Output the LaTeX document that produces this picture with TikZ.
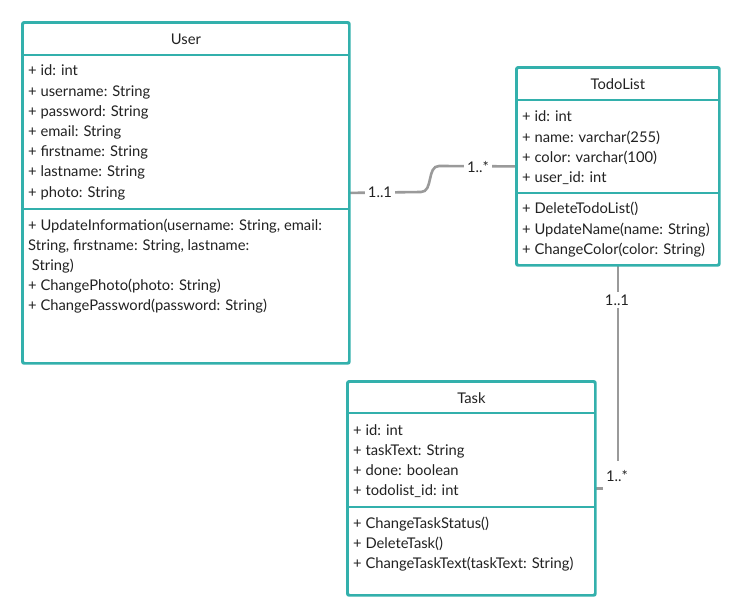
\documentclass[tikz,border=0pt]{standalone}
\usepackage{fontspec}
\setmainfont{Lato}
\definecolor{umlteal}{HTML}{33B0AC}
\definecolor{linkgray}{HTML}{9A9A9A}
\definecolor{textgray}{HTML}{222222}
\tikzstyle{classbox}=[draw=umlteal,line width=1.8bp,rounded corners=2bp,inner sep=0pt,fill=white,anchor=north west]
\tikzstyle{rule}=[draw=umlteal,line width=1.8bp]
\tikzstyle{member}=[anchor=base west,inner sep=0pt,text=textgray]
\tikzstyle{title}=[anchor=base,inner sep=0pt,text=textgray]
\tikzstyle{link}=[draw=linkgray,line width=2.6bp]
\tikzstyle{mult}=[fill=white,inner sep=3bp,text=textgray]
\newcommand{\umlfont}{\fontsize{14.8}{17}\selectfont}

\begin{document}
\begin{tikzpicture}[x=1bp, y=-1bp, font=\umlfont]
    \useasboundingbox (0,0) rectangle (740,616);
    % The three class boxes
    \node[classbox,minimum width=326bp,minimum height=340bp] (user) at (22,22) {};
    \node[classbox,minimum width=202bp,minimum height=197bp] (todolist) at (516,67) {};
    \node[classbox,minimum width=247bp,minimum height=213bp] (task) at (347,381) {};
    % Connect classes and draw multiplicities
    \path[link] (user.east) -- (421,192) to[out=0,in=180] (439,166) -- (todolist.west);
    \path[link] (todolist.south) |- (task.east);
    \node[mult] (user-mult) at (380,192) {1..1};
    \node[mult] (todo-mult) at (478,167) {1..*};
    \node[mult] (todo-mult2) at (617,300) {1..1};
    \node[mult,minimum height=30bp] (task-mult) at (617,476) {1..*};
    % Redraw boxes on top of link ends
    \foreach \name in {user, todolist, task}
        \draw[draw=umlteal,line width=1.8bp,rounded corners=2bp] (\name.north west) rectangle (\name.south east);
    % Titles and separators
    \foreach \name/\txt/\ya/\yb in {user/User/55/209, todolist/TodoList/100/193, task/Task/413/507} {
        \node[title] (\name-title) at ([yshift=-22.5bp]\name.north) {\txt};
        \draw[rule] (\name.west |- 0,\ya) -- (\name.east |- 0,\ya);
        \draw[rule] (\name.west |- 0,\yb) -- (\name.east |- 0,\yb);
    }
    % User
    \foreach \txt [count=\i from 0] in {+ id: int, + username: String, + password: String, + email: String, + firstname: String, + lastname: String, + photo: String}
        \node[member] (user-a\i) at (28,76+20.2*\i) {\txt};
    \foreach \txt [count=\i from 0] in {{+ UpdateInformation(username: String, email:}, {String, firstname: String, lastname:}, {\ String)}, + ChangePhoto(photo: String), + ChangePassword(password: String)}
        \node[member] (user-m\i) at (28,230+20.2*\i) {\txt};
    % TodoList
    \foreach \txt [count=\i from 0] in {+ id: int, + name: varchar(255), + color: varchar(100), + user\_id: int}
        \node[member] (todolist-a\i) at (522,122+20.2*\i) {\txt};
    \foreach \txt [count=\i from 0] in {+ DeleteTodoList(), + UpdateName(name: String), + ChangeColor(color: String)}
        \node[member] (todolist-m\i) at (522,214+20.2*\i) {\txt};
    % Task
    \foreach \txt [count=\i from 0] in {+ id: int, + taskText: String, + done: boolean, + todolist\_id: int}
        \node[member] (task-a\i) at (353,435+20.2*\i) {\txt};
    \foreach \txt [count=\i from 0] in {+ ChangeTaskStatus(), + DeleteTask(), + ChangeTaskText(taskText: String)}
        \node[member] (task-m\i) at (353,528+20.2*\i) {\txt};
\end{tikzpicture}
\end{document}
